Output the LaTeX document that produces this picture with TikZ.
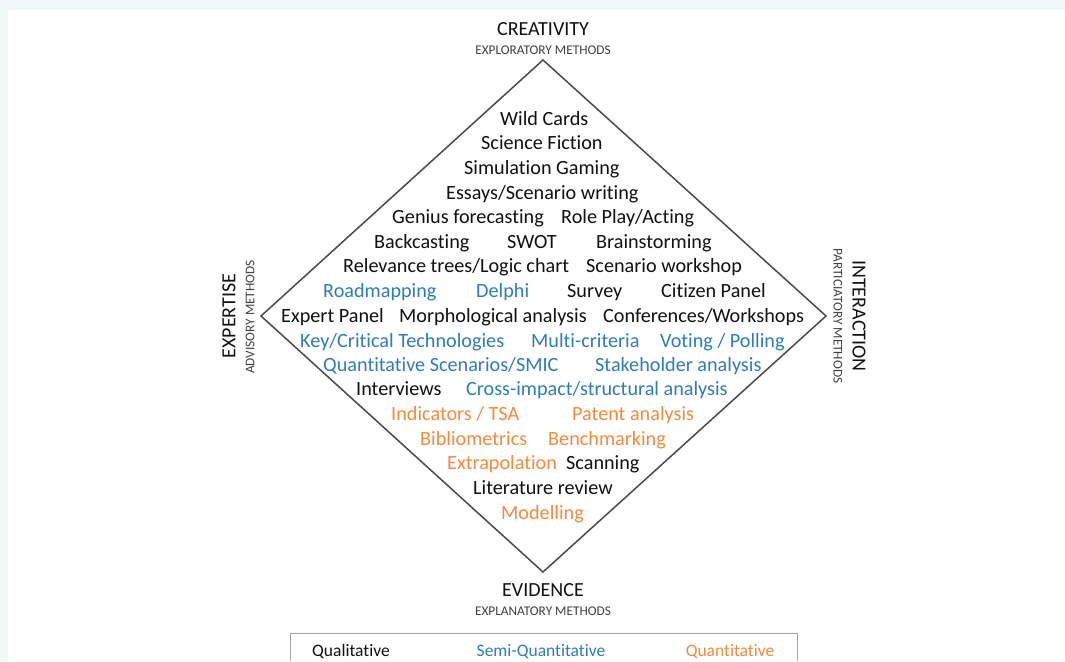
\documentclass[tikz,border=0pt]{standalone}
\usepackage{fontspec}
\setmainfont{Carlito}[Ligatures=NoCommon]
\definecolor{mint}{HTML}{F0F9F8}
\definecolor{edgegray}{HTML}{4A4A4A}
\definecolor{boxgray}{HTML}{A6A6A6}
\definecolor{qualc}{HTML}{111111}
\definecolor{semic}{HTML}{2E7DB8}
\definecolor{quantc}{HTML}{F58A3E}
\definecolor{subc}{HTML}{404040}
\begin{document}
\begin{tikzpicture}[x=1pt,y=-1pt,
  item/.style={anchor=base west, inner sep=0pt,
               font=\fontsize{20.2}{24}\selectfont},
  qual/.style={item, text=qualc},
  semi/.style={item, text=semic},
  quant/.style={item, text=quantc},
  axis/.style={inner sep=0pt, font=\fontsize{20}{24}\selectfont, text=qualc},
  axissub/.style={inner sep=0pt, font=\fontsize{13.3}{16}\selectfont, text=subc},
  legend/.style={anchor=base, inner sep=0pt, font=\fontsize{17.5}{21}\selectfont}]
% page and background
\useasboundingbox (0,0) rectangle (1065,661);
\fill[mint] (0,0) rectangle (1065,661);
\fill[white] (8,10) rectangle (1065,661);

% the diamond
\coordinate (top) at (543,60);
\coordinate (right) at (826,316);
\coordinate (bottom) at (543,572);
\coordinate (left) at (261,316);
\draw[edgegray, line width=1.5pt, line join=miter] (top) -- (right) -- (bottom) -- (left) -- cycle;

% corner labels
\node[axis, anchor=base] (creat) at (543,36) {CREATIVITY};
\node[axissub, anchor=base] (creatsub) at (543,55) {EXPLORATORY METHODS};
\node[axis, anchor=base] (evid) at (543,596.5) {EVIDENCE};
\node[axissub, anchor=base] (evidsub) at (543,615.5) {EXPLANATORY METHODS};
\node[axis, rotate=90] (expert) at (229,316) {EXPERTISE};
\node[axissub, rotate=90] (expertsub) at (250,317) {ADVISORY METHODS};
\node[axis, rotate=-90] (inter) at (859,316) {INTERACTION};
\node[axissub, rotate=-90] (intersub) at (838,316) {PARTICIATORY METHODS};

% methods, row by row (base line positions)
\node[qual] (m1)  at (500,125) {Wild Cards};
\node[qual] (m2)  at (481,149) {Science Fiction};
\node[qual] (m3)  at (464,174) {Simulation Gaming};
\node[qual] (m4)  at (446,199) {Essays/Scenario writing};
\node[qual] (m5)  at (392,223) {Genius forecasting};
\node[qual] (m6)  at (561,223) {Role Play/Acting};
\node[qual] (m7)  at (374,248) {Backcasting};
\node[qual] (m8)  at (507,248) {SWOT};
\node[qual] (m9)  at (596,248) {Brainstorming};
\node[qual] (m10) at (343,272) {Relevance trees/Logic chart};
\node[qual] (m11) at (586,272) {Scenario workshop};
\node[semi] (m12) at (323,297) {Roadmapping};
\node[semi] (m13) at (476,297) {Delphi};
\node[qual] (m14) at (567,297) {Survey};
\node[qual] (m15) at (661,297) {Citizen Panel};
\node[qual] (m16) at (281,322) {Expert Panel};
\node[qual] (m17) at (399,322) {Morphological analysis};
\node[qual] (m18) at (603,322) {Conferences/Workshops};
\node[semi] (m19) at (300,347) {Key/Critical Technologies};
\node[semi] (m20) at (531,347) {Multi-criteria};
\node[semi] (m21) at (660,347) {Voting / Polling};
\node[semi] (m22) at (323,371) {Quantitative Scenarios/SMIC};
\node[semi] (m23) at (595,371) {Stakeholder analysis};
\node[qual] (m24) at (356,395) {Interviews};
\node[semi] (m25) at (466,395) {Cross-impact/structural analysis};
\node[quant] (m26) at (391,420) {Indicators / TSA};
\node[quant] (m27) at (572,420) {Patent analysis};
\node[quant] (m28) at (420,445) {Bibliometrics};
\node[quant] (m29) at (548,445) {Benchmarking};
\node[quant] (m30) at (447,469) {Extrapolation};
\node[qual] (m31) at (566,469) {Scanning};
\node[qual] (m32) at (473,494) {Literature review};
\node[quant] (m33) at (501,519) {Modelling};

% legend
\coordinate (lgbl) at (290,661);
\coordinate (lgtr) at (797,633);
\coordinate (lgbr) at (797,661);
\draw[boxgray, line width=1pt] (lgbl) |- (lgtr) -- (lgbr);
\node[legend, text=qualc] (lg1) at (351,656) {Qualitative};
\node[legend, text=semic] (lg2) at (541,656) {Semi-Quantitative};
\node[legend, text=quantc] (lg3) at (730,656) {Quantitative};
\end{tikzpicture}
\end{document}
